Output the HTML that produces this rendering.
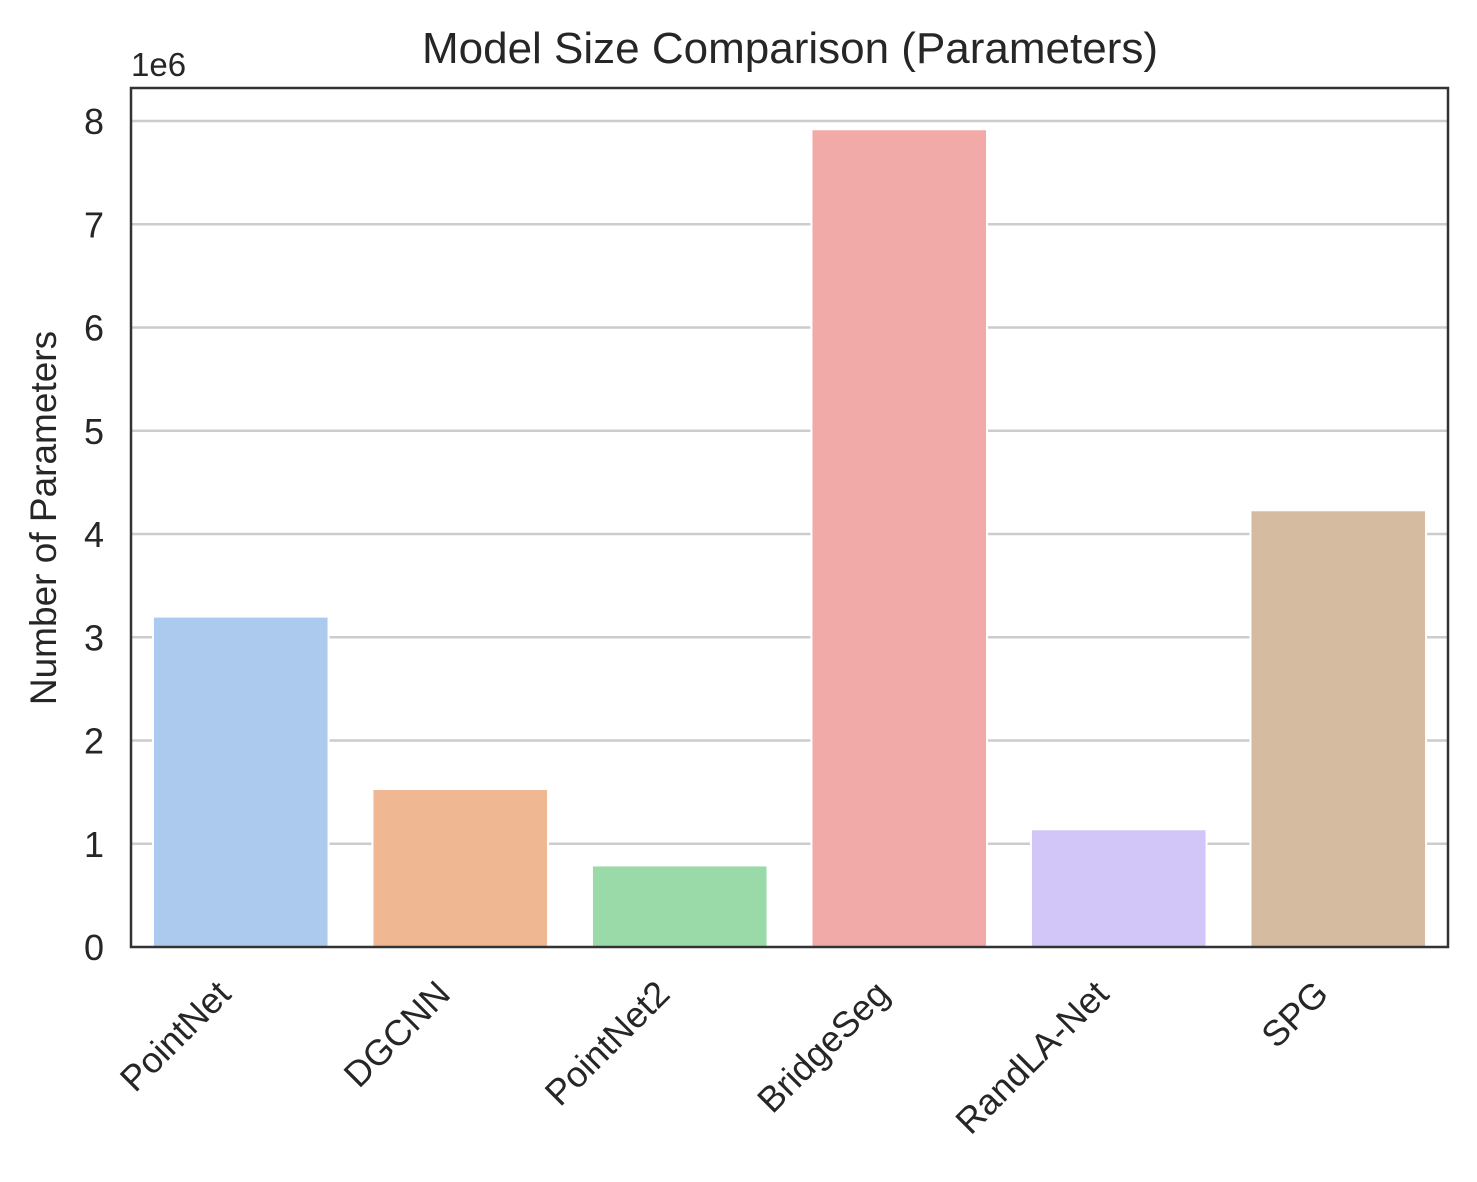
<!DOCTYPE html>
<html><head><meta charset="utf-8"><style>
body{margin:0;background:#fff}
text{font-family:"Liberation Sans",Arial,sans-serif;fill:#262626}
</style></head><body>
<svg id="chart" width="1477" height="1177" xmlns="http://www.w3.org/2000/svg">
<rect width="1477" height="1177" fill="#fff"/>
<g id="grid"></g><g id="bars"></g><g id="yticks"></g><g id="xticks"></g>
<rect x="131" y="88" width="1317" height="859" fill="none" stroke="#333" stroke-width="2.5"/>
<text x="790" y="63" font-size="44" text-anchor="middle">Model Size Comparison (Parameters)</text>
<text x="131" y="76" font-size="33">1e6</text>
<text transform="translate(56,518) rotate(-90)" font-size="37" text-anchor="middle">Number of Parameters</text>
</svg>
<script>
const categories=["PointNet","DGCNN","PointNet2","BridgeSeg","RandLA-Net","SPG"];
const values=[3.2,1.53,0.79,7.92,1.14,4.23];
const colors=["#abcaee","#f0b793","#9ad9a8","#f1aaa8","#d2c5f7","#d5bba0"];
const yTicks=[0,1,2,3,4,5,6,7,8];
const L=131,R=1448,T=88,B=947,y0=947,yPer=103.25;
const ns="http://www.w3.org/2000/svg";
const y=v=>y0-v*yPer;
const band=(R-L)/categories.length;
const x=i=>L+band*(i+0.5);
function mk(t,a,p){const e=document.createElementNS(ns,t);for(const k in a)e.setAttribute(k,a[k]);document.getElementById(p).appendChild(e);return e;}
yTicks.forEach(t=>{
 if(t>0){const g=mk('line',{x1:L,x2:R,y1:y(t),y2:y(t),stroke:'#cccccc','stroke-width':2.5},'grid');
 
 }
 const tx=mk('text',{x:L-27,y:y(t)+13,'font-size':36,'text-anchor':'end'},'yticks');tx.textContent=t;
 
 
});
categories.forEach((c,i)=>{
 const w=band*0.8;
 const b=mk('rect',{x:x(i)-w/2,y:y(values[i]),width:w,height:y(0)-y(values[i]),fill:colors[i],stroke:'#fff','stroke-width':2},'bars');
 
 
 const t=mk('text',{transform:`translate(${x(i)-8},${996}) rotate(-45)`,'font-size':36,'text-anchor':'end'},'xticks');
 t.textContent=c;
 
 
});
</script>
</body></html>
